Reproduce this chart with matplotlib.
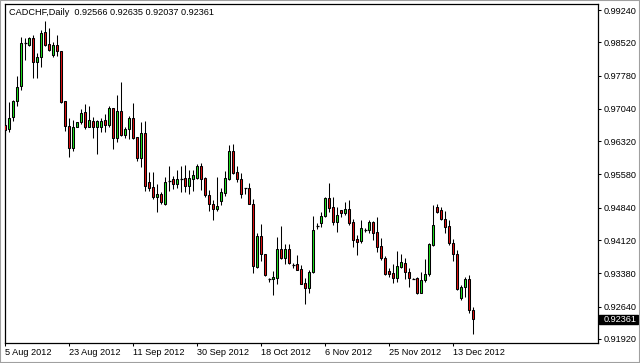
import matplotlib
matplotlib.use('Agg')
import matplotlib.pyplot as plt
from matplotlib.patches import Rectangle

symbol = 'CADCHF,Daily'
date_labels = ['5 Aug 2012', '23 Aug 2012', '11 Sep 2012', '30 Sep 2012',
               '18 Oct 2012', '6 Nov 2012', '25 Nov 2012', '13 Dec 2012']
date_index = [0, 16, 32, 48, 64, 80, 96, 112]

opens = [0.96681, 0.96585, 0.96852, 0.97208, 0.97542, 0.98498, 0.98469, 0.98610, 0.98090, 0.98187,
         0.98743, 0.98483, 0.98246, 0.98469, 0.98320, 0.97208, 0.96666, 0.96162, 0.96629, 0.96740,
         0.96963, 0.96644, 0.96778, 0.96629, 0.96629, 0.96792, 0.96689, 0.97052, 0.96384, 0.96985,
         0.96466, 0.96592, 0.96829, 0.96407, 0.95939, 0.96503, 0.95405, 0.95294, 0.95086, 0.95146,
         0.94928, 0.95440, 0.95470, 0.95358, 0.95490, 0.95507, 0.95321, 0.95484, 0.95507, 0.95766,
         0.95507, 0.95113, 0.94928, 0.94817, 0.94987, 0.95173, 0.95470, 0.96100, 0.95633, 0.95470,
         0.95269, 0.95269, 0.94913, 0.93519, 0.94209, 0.93801, 0.93244, 0.93244, 0.93282, 0.93927,
         0.93727, 0.93927, 0.93556, 0.93578, 0.93467, 0.93155, 0.93059, 0.93415, 0.94431, 0.94493,
         0.94656, 0.95050, 0.94849, 0.94530, 0.94783, 0.94731, 0.94805, 0.94516, 0.94145, 0.94108,
         0.94345, 0.94345, 0.94516, 0.94293, 0.93989, 0.93714, 0.93433, 0.93381, 0.93269, 0.93529,
         0.93603, 0.93403, 0.93262, 0.93269, 0.92951, 0.93232, 0.93358, 0.94011, 0.94864, 0.94790,
         0.94590, 0.94434, 0.94048, 0.93803, 0.92825, 0.93069, 0.93255, 0.92566]

highs = [0.96889, 0.97185, 0.97237, 0.97764, 0.98632, 0.98617, 0.98632, 0.98691, 0.98276, 0.98802,
         0.98988, 0.98839, 0.98521, 0.98691, 0.98335, 0.97208, 0.96829, 0.96792, 0.96740, 0.97037,
         0.97148, 0.97111, 0.96867, 0.96792, 0.96837, 0.96926, 0.97111, 0.97060, 0.97356, 0.97631,
         0.96629, 0.96889, 0.97163, 0.96422, 0.96740, 0.96778, 0.95628, 0.95628, 0.95368, 0.95183,
         0.95529, 0.95766, 0.95544, 0.95670, 0.95766, 0.95781, 0.95670, 0.95670, 0.95803, 0.95840,
         0.95529, 0.95232, 0.95002, 0.95529, 0.95269, 0.95655, 0.96226, 0.96248, 0.95766, 0.95618,
         0.95284, 0.95395, 0.95024, 0.94283, 0.94468, 0.93816, 0.93282, 0.93430, 0.94186, 0.94431,
         0.94023, 0.94038, 0.93615, 0.93786, 0.93563, 0.93267, 0.93445, 0.94654, 0.94505, 0.94753,
         0.95087, 0.95383, 0.95087, 0.94849, 0.94790, 0.94975, 0.95012, 0.94582, 0.94234, 0.94567,
         0.94382, 0.94567, 0.94545, 0.94642, 0.94160, 0.93766, 0.93492, 0.93581, 0.93885, 0.93811,
         0.93714, 0.93492, 0.93270, 0.93292, 0.93418, 0.93692, 0.94048, 0.94901, 0.94916, 0.94864,
         0.94775, 0.94567, 0.94137, 0.93900, 0.93121, 0.93307, 0.93344, 0.92635]

lows = [0.96481, 0.96518, 0.96763, 0.97111, 0.97460, 0.98127, 0.98446, 0.97720, 0.97720, 0.97979,
        0.98446, 0.98335, 0.98187, 0.98224, 0.97163, 0.96540, 0.95977, 0.96110, 0.96629, 0.96703,
        0.96592, 0.96629, 0.96384, 0.96036, 0.96518, 0.96518, 0.96629, 0.96147, 0.96296, 0.96444,
        0.96392, 0.96370, 0.96370, 0.95888, 0.95739, 0.95220, 0.95220, 0.95035, 0.94738, 0.94923,
        0.94898, 0.95210, 0.95247, 0.95269, 0.95188, 0.95195, 0.95151, 0.95210, 0.95470, 0.95232,
        0.95076, 0.94765, 0.94557, 0.94765, 0.94891, 0.95099, 0.95447, 0.95581, 0.95418, 0.95047,
        0.95136, 0.94913, 0.93393, 0.93489, 0.93652, 0.93319, 0.93185, 0.92889, 0.93133, 0.93704,
        0.93578, 0.93593, 0.93489, 0.93445, 0.93133, 0.92688, 0.92948, 0.93393, 0.94357, 0.94419,
        0.94642, 0.94753, 0.94456, 0.94308, 0.94642, 0.94679, 0.94456, 0.93974, 0.93789, 0.94048,
        0.94308, 0.94271, 0.94122, 0.93863, 0.93677, 0.93344, 0.93307, 0.93158, 0.93195, 0.93492,
        0.93247, 0.93084, 0.93255, 0.92921, 0.92936, 0.93195, 0.93321, 0.93989, 0.94731, 0.94567,
        0.94271, 0.94011, 0.93663, 0.93010, 0.92787, 0.92847, 0.92491, 0.92037]

closes = [0.96570, 0.96837, 0.97208, 0.97519, 0.98498, 0.98498, 0.98610, 0.98090, 0.98187, 0.98728,
          0.98469, 0.98357, 0.98469, 0.98335, 0.97200, 0.96666, 0.96162, 0.96644, 0.96740, 0.96948,
          0.96644, 0.96792, 0.96629, 0.96763, 0.96778, 0.96689, 0.97052, 0.96384, 0.96985, 0.96466,
          0.96592, 0.96829, 0.96392, 0.95939, 0.96503, 0.95331, 0.95272, 0.95072, 0.95146, 0.94960,
          0.95418, 0.95440, 0.95358, 0.95470, 0.95490, 0.95321, 0.95492, 0.95559, 0.95766, 0.95484,
          0.95113, 0.94913, 0.94817, 0.94876, 0.95188, 0.95492, 0.96100, 0.95618, 0.95470, 0.95136,
          0.95269, 0.94928, 0.93541, 0.94209, 0.93801, 0.93341, 0.93244, 0.93296, 0.93927, 0.93727,
          0.93927, 0.93615, 0.93556, 0.93452, 0.93148, 0.93059, 0.93415, 0.94342, 0.94431, 0.94656,
          0.95050, 0.94827, 0.94530, 0.94679, 0.94731, 0.94805, 0.94508, 0.94122, 0.94085, 0.94382,
          0.94345, 0.94516, 0.94286, 0.93974, 0.93714, 0.93358, 0.93358, 0.93269, 0.93544, 0.93626,
          0.93403, 0.93269, 0.93262, 0.92936, 0.93232, 0.93366, 0.94033, 0.94456, 0.94753, 0.94582,
          0.94419, 0.94048, 0.93803, 0.93025, 0.93069, 0.93255, 0.92560, 0.92361]

price_ticks = [0.99240, 0.98520, 0.97780, 0.97040, 0.96320, 0.95580,
               0.94840, 0.94120, 0.93380, 0.92640, 0.91920]

FONT = 'Liberation Sans'
FS = 6.6
BULL = '#1ee01e'
BEAR = '#e01010'

fig = plt.figure(figsize=(6.4, 3.63), dpi=100)
ax = fig.add_axes([4.5 / 640, 20 / 363, 593.5 / 640, 339 / 363])

n = len(opens)
idx = list(range(n))
ax.vlines(idx, lows, highs, color='black', linewidth=0.75, zorder=2)

body_x, body_b, body_h, body_c = [], [], [], []
doji_x, doji_y = [], []
for i in idx:
    o, c = opens[i], closes[i]
    if abs(c - o) < 0.00005:
        doji_x.append(i)
        doji_y.append(o)
    else:
        body_x.append(i)
        body_b.append(min(o, c))
        body_h.append(abs(c - o))
        body_c.append(BULL if c > o else BEAR)

ax.bar(body_x, body_h, bottom=body_b, width=0.6, color=body_c,
       edgecolor='black', linewidth=0.75, zorder=3)
ax.hlines(doji_y, [x - 0.4 for x in doji_x], [x + 0.4 for x in doji_x],
          color='black', linewidth=0.9, zorder=3)

ax.set_xlim(-0.15, 148.2)
ax.set_ylim(0.918308, 0.993735)

for s in ax.spines.values():
    s.set_color('black')
    s.set_linewidth(0.9)

ax.yaxis.tick_right()
ax.set_yticks(price_ticks)
ax.set_yticklabels([f'{p:.5f}' for p in price_ticks], fontfamily=FONT, fontsize=FS)
ax.tick_params(axis='y', direction='out', length=2.2, width=0.75, pad=2.2, colors='black')

ax.set_xticks(date_index)
ax.set_xticklabels(date_labels, fontfamily=FONT, fontsize=FS, ha='left')
ax.tick_params(axis='x', direction='out', length=2.2, width=0.75, pad=1.5, colors='black')

# last price marker box
last = closes[-1]
tr = ax.get_yaxis_transform()
ax.add_patch(Rectangle((1.0017, last - 0.0010), 0.0657, 0.0020, transform=tr,
                       facecolor='black', edgecolor='black', clip_on=False, zorder=5))
ax.text(1.0101, last, f'{last:.5f}', transform=tr, ha='left', va='center',
        color='white', fontfamily=FONT, fontsize=FS, zorder=6, clip_on=False)

header = f'{symbol}  {opens[-1]:.5f} {highs[-1]:.5f} {lows[-1]:.5f} {closes[-1]:.5f}'
fig.text(9 / 640, 1 - 12.7 / 363, header, ha='left', va='center',
         fontfamily=FONT, fontsize=FS, color='black')

fig.patches.append(Rectangle((0, 0), 1, 1, transform=fig.transFigure, fill=False,
                             edgecolor='#a0a0a0', linewidth=1.5))

fig.savefig('out.png', dpi=100, facecolor='white')
